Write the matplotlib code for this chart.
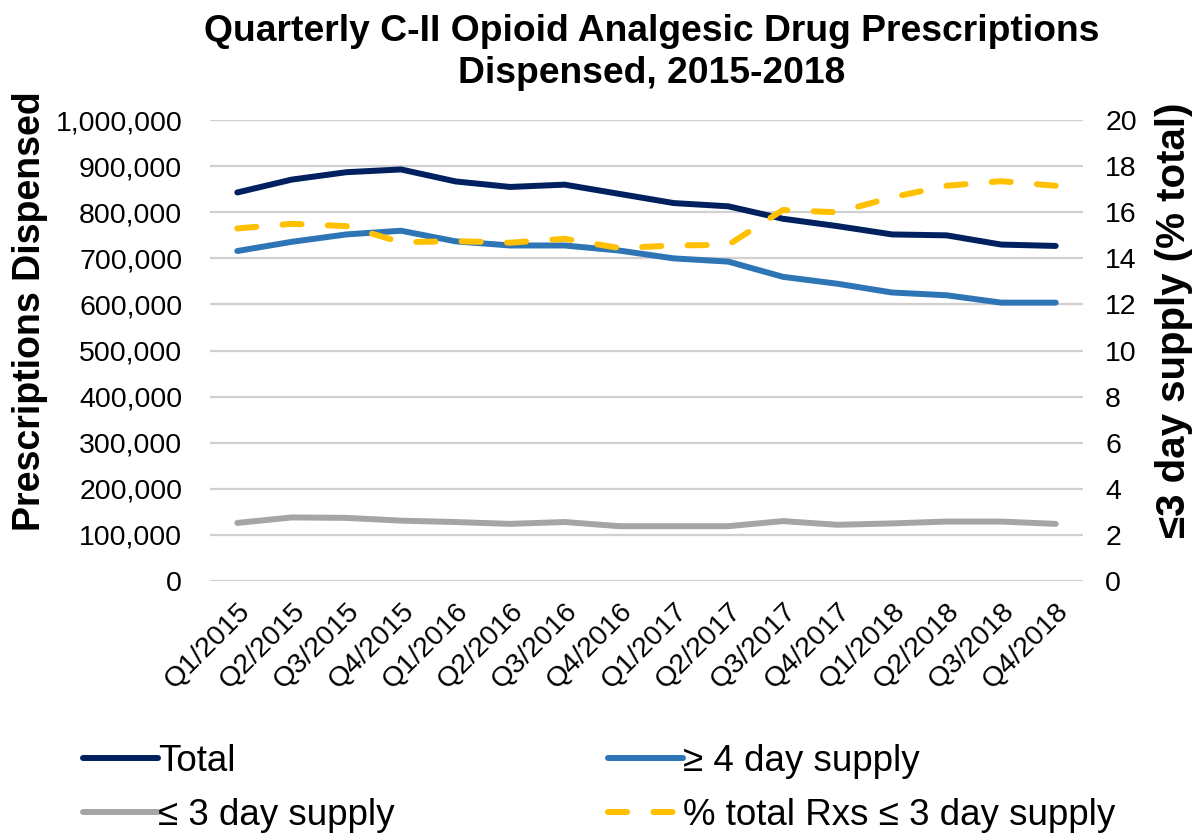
import matplotlib
matplotlib.use("Agg")
import matplotlib.pyplot as plt
from matplotlib.ticker import FuncFormatter

plt.rcParams['font.family'] = ['Liberation Sans', 'DejaVu Sans']

quarters = ["Q1/2015", "Q2/2015", "Q3/2015", "Q4/2015",
            "Q1/2016", "Q2/2016", "Q3/2016", "Q4/2016",
            "Q1/2017", "Q2/2017", "Q3/2017", "Q4/2017",
            "Q1/2018", "Q2/2018", "Q3/2018", "Q4/2018"]

total = [843000, 871000, 887000, 893000, 867000, 855000, 860000, 840000,
         820000, 813000, 786000, 770000, 752000, 750000, 730000, 727000]
supply_4plus = [716000, 736000, 752000, 760000, 737000, 728000, 728000, 717000,
                700000, 693000, 660000, 645000, 626000, 620000, 604000, 604000]
supply_3less = [126000, 138000, 137000, 131000, 128000, 124000, 128000, 119000,
                119000, 119000, 130000, 122000, 125000, 129000, 129000, 124000]
pct_3less = [15.3, 15.5, 15.4, 14.7, 14.75, 14.68, 14.85, 14.45,
             14.56, 14.59, 16.1, 16.0, 16.65, 17.15, 17.35, 17.15]

fig = plt.figure(figsize=(11.96, 8.4), dpi=100)
ax = fig.add_axes([0.1756, 0.3083, 0.7299, 0.5487])
ax2 = ax.twinx()

x = list(range(len(quarters)))
lw = 4.3
l1, = ax.plot(x, total, color='#002060', lw=lw, solid_capstyle='round',
              solid_joinstyle='round', label='Total', zorder=3)
l2, = ax.plot(x, supply_4plus, color='#2E75B6', lw=lw, solid_capstyle='round',
              solid_joinstyle='round', label='\u2265 4 day supply', zorder=3)
l3, = ax.plot(x, supply_3less, color='#A5A5A5', lw=lw, solid_capstyle='round',
              solid_joinstyle='round', label='\u2264 3 day supply', zorder=3)
l4, = ax2.plot(x, pct_3less, color='#FFC000', lw=lw, dashes=(3.2, 4.4),
               dash_capstyle='round', label='% total Rxs \u2264 3 day supply', zorder=3)

ax.set_xlim(-0.5, len(quarters) - 0.5)
ax.set_ylim(0, 1000000)
ax.set_yticks(range(0, 1000001, 100000))
ax.yaxis.set_major_formatter(FuncFormatter(lambda v, p: f"{int(v):,}"))
ax2.set_ylim(0, 20)
ax2.set_yticks(range(0, 21, 2))

ax.grid(axis='y', color='#D0D0D0', lw=1.6, zorder=0)
ax.set_axisbelow(True)
for a in (ax, ax2):
    for s in a.spines.values():
        s.set_visible(False)
    a.tick_params(length=0, labelsize=20.5, colors='#000000')
ax.tick_params(axis='y', pad=20)
ax2.tick_params(axis='y', pad=16)

ax.set_xticks(x)
ax.set_xticklabels(quarters, rotation=45, ha='right', rotation_mode='anchor')
ax.tick_params(axis='x', pad=12)

ax.set_ylabel('Prescriptions Dispensed', fontsize=27, fontweight='bold')
ax.yaxis.set_label_coords(-0.186, 0.586)
ax2.set_ylabel('\u22643 day supply (% total)', fontsize=29, fontweight='bold')
ax2.yaxis.set_label_coords(1.082, 0.566)

fig.suptitle('Quarterly C-II Opioid Analgesic Drug Prescriptions\nDispensed, 2015-2018',
             fontsize=26.8, fontweight='bold', x=0.545, y=0.983, linespacing=1.25)

fig.legend(handles=[l1, l3, l2, l4], ncol=2, loc='lower left',
           bbox_to_anchor=(0.042, -0.031), frameon=False, fontsize=26.5,
           handlelength=2.04, handletextpad=0.0, columnspacing=5.8,
           labelspacing=0.52, borderpad=0.4)

fig.savefig('out.png', dpi=100)
